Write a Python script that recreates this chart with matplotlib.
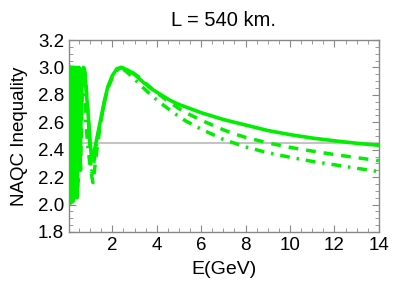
import matplotlib
matplotlib.use("Agg")
import matplotlib.pyplot as plt
from matplotlib.ticker import MultipleLocator

# values
e_solid = [0.05, 0.07, 0.09, 0.11, 0.13, 0.155, 0.18, 0.21, 0.24, 0.28, 0.33, 0.40,
           0.48, 0.55, 0.60, 0.65, 0.70, 0.75, 0.80, 0.90, 1.00, 1.05, 1.10, 1.20,
           1.35, 1.50, 1.65, 1.80, 2.00, 2.20, 2.40, 2.70, 3.00, 3.40, 3.80, 4.20,
           4.60, 5.00, 5.50, 6.00, 6.50, 7.00, 7.50, 8.00, 9.00, 10.0, 11.0, 12.0,
           13.0, 14.0]
v_solid = [3.00, 2.05, 3.00, 2.05, 3.00, 2.05, 3.00, 2.06, 3.00, 2.08, 3.00, 2.10,
           3.00, 2.30, 2.70, 2.97, 3.00, 2.97, 2.88, 2.68, 2.46, 2.37, 2.33, 2.40,
           2.52, 2.64, 2.76, 2.86, 2.94, 2.99, 3.00, 2.98, 2.95, 2.89, 2.84, 2.80,
           2.76, 2.73, 2.70, 2.67, 2.645, 2.62, 2.60, 2.58, 2.54, 2.51, 2.485, 2.465,
           2.447, 2.432]

e_dash = [0.05, 0.075, 0.095, 0.115, 0.14, 0.165, 0.19, 0.22, 0.255, 0.29, 0.345, 0.42,
          0.50, 0.57, 0.62, 0.67, 0.72, 0.77, 0.83, 0.93, 1.03, 1.08, 1.13, 1.22,
          1.35, 1.50, 1.65, 1.80, 2.00, 2.20, 2.40, 2.80, 3.20, 3.60, 4.00, 4.50,
          5.00, 5.50, 6.00, 6.50, 7.00, 7.50, 8.00, 9.00, 10.0, 11.0, 12.0, 13.0,
          14.0]
v_dash = [2.95, 2.00, 3.00, 2.00, 3.00, 2.02, 3.00, 2.02, 3.00, 2.05, 3.00, 2.05,
          3.00, 2.25, 2.65, 2.95, 3.00, 2.96, 2.85, 2.60, 2.30, 2.20, 2.16, 2.28,
          2.46, 2.62, 2.75, 2.85, 2.93, 2.98, 3.00, 2.975, 2.93, 2.87, 2.815, 2.755,
          2.70, 2.655, 2.615, 2.58, 2.545, 2.515, 2.49, 2.45, 2.417, 2.39, 2.365, 2.342,
          2.32]

e_dashdot = [0.05, 0.065, 0.085, 0.105, 0.125, 0.15, 0.175, 0.20, 0.23, 0.265, 0.31, 0.37,
             0.45, 0.53, 0.58, 0.63, 0.68, 0.74, 0.80, 0.90, 1.00, 1.06, 1.12, 1.22,
             1.35, 1.50, 1.65, 1.80, 2.00, 2.20, 2.40, 2.70, 3.00, 3.40, 3.80, 4.30,
             4.80, 5.30, 6.00, 7.00, 8.00, 9.00, 10.0, 11.0, 12.0, 13.0, 14.0]
v_dashdot = [2.05, 3.00, 2.02, 3.00, 2.03, 3.00, 2.04, 3.00, 2.05, 3.00, 2.08, 3.00,
             2.12, 2.75, 2.98, 3.00, 2.95, 2.82, 2.62, 2.42, 2.28, 2.24, 2.26, 2.36,
             2.50, 2.63, 2.75, 2.85, 2.93, 2.98, 3.00, 2.96, 2.915, 2.85, 2.79, 2.725,
             2.665, 2.61, 2.55, 2.475, 2.42, 2.378, 2.345, 2.315, 2.29, 2.265, 2.24]

classical_bound = 2.449

plt.rcParams['font.family'] = ['Liberation Sans', 'DejaVu Sans']

fig = plt.figure(figsize=(3.93, 2.95), dpi=100)
ax = fig.add_axes([0.1756, 0.2136, 0.7884, 0.6508])

green = '#00ee00'
ax.axhline(classical_bound, color='#c4c4c4', lw=1.5, zorder=1)
ax.plot(e_solid, v_solid, color=green, lw=2.6, zorder=3)
ax.plot(e_dash, v_dash, color=green, lw=2.5, dashes=(2.8, 2.3), zorder=2)
ax.plot(e_dashdot, v_dashdot, color=green, lw=2.5, dashes=(2.8, 2.0, 0.7, 2.0), zorder=2)

ax.set_xlim(0.05, 14)
ax.set_ylim(1.8, 3.2)
ax.xaxis.set_major_locator(MultipleLocator(2))
ax.xaxis.set_minor_locator(MultipleLocator(0.5))
ax.yaxis.set_major_locator(MultipleLocator(0.2))
ax.yaxis.set_minor_locator(MultipleLocator(0.05))
ax.set_xticks([2, 4, 6, 8, 10, 12, 14])

for s in ax.spines.values():
    s.set_color('#888888')
    s.set_linewidth(1.0)
ax.tick_params(which='both', direction='in', top=True, right=True, colors='#888888',
               labelcolor='black', labelsize=13.5)
ax.tick_params(which='major', length=5, width=0.8)
ax.tick_params(which='minor', length=3, width=0.6)

ax.set_title('L = 540 km.', fontsize=14.5, pad=10)
ax.set_xlabel('E(GeV)', fontsize=14, labelpad=5)
ax.set_ylabel('NAQC Inequality', fontsize=13.5, labelpad=7)

fig.savefig('out.png', dpi=100)
